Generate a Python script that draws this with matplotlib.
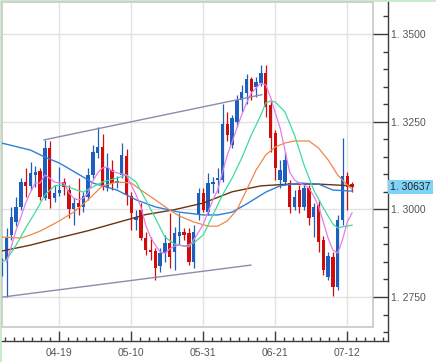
import matplotlib
matplotlib.use("Agg")
import matplotlib.pyplot as plt
from matplotlib.patches import Rectangle
from matplotlib.ticker import FixedLocator, MultipleLocator, FixedFormatter, NullFormatter
import numpy as np

# ---------------- data ----------------
opens = [1.2818, 1.2856, 1.2927, 1.2964, 1.3007, 1.3078, 1.3067, 1.3098, 1.3109, 1.3032,
         1.3175, 1.3032, 1.3047, 1.3078, 1.3055, 1.3001, 1.3018, 1.3007, 1.3035, 1.3098,
         1.3161, 1.3178, 1.3061, 1.3112, 1.3075, 1.3098, 1.3152, 1.3038, 1.2970, 1.2998,
         1.2918, 1.2884, 1.2881, 1.2838, 1.2875, 1.2904, 1.2878, 1.2924, 1.2935, 1.2933,
         1.2850, 1.2984, 1.3047, 1.2992, 1.3072, 1.3084, 1.3084, 1.3243, 1.3183, 1.3249,
         1.3312, 1.3332, 1.3372, 1.3349, 1.3360, 1.3389, 1.3298, 1.3218, 1.3084, 1.3078,
         1.3075, 1.3007, 1.3055, 1.3007, 1.3061, 1.2978, 1.3012, 1.2913, 1.2807, 1.2864,
         1.2779, 1.2970, 1.3095, 1.3072]
highs = [1.2861, 1.2947, 1.3007, 1.3035, 1.3089, 1.3118, 1.3135, 1.3124, 1.3118, 1.3198,
         1.3195, 1.3069, 1.3121, 1.3089, 1.3069, 1.3032, 1.3089, 1.3049, 1.3118, 1.3183,
         1.3235, 1.3215, 1.3161, 1.3141, 1.3095, 1.3189, 1.3172, 1.3049, 1.2998, 1.3018,
         1.2935, 1.2921, 1.2890, 1.2890, 1.2927, 1.2990, 1.2950, 1.2990, 1.2947, 1.2947,
         1.2955, 1.3061, 1.3061, 1.3104, 1.3092, 1.3118, 1.3300, 1.3278, 1.3269, 1.3326,
         1.3355, 1.3386, 1.3377, 1.3377, 1.3412, 1.3412, 1.3312, 1.3226, 1.3141, 1.3164,
         1.3084, 1.3055, 1.3069, 1.3075, 1.3069, 1.3018, 1.3027, 1.2924, 1.2878, 1.2878,
         1.2984, 1.3203, 1.3106, 1.3078]
lows = [1.2810, 1.2750, 1.2913, 1.2952, 1.2998, 1.3035, 1.3055, 1.3064, 1.3027, 1.3027,
        1.3004, 1.3021, 1.3038, 1.3041, 1.2975, 1.2955, 1.2984, 1.2992, 1.3027, 1.3089,
        1.3146, 1.3055, 1.3052, 1.3055, 1.3061, 1.3089, 1.3012, 1.2941, 1.2941, 1.2913,
        1.2870, 1.2856, 1.2798, 1.2821, 1.2850, 1.2833, 1.2827, 1.2898, 1.2913, 1.2841,
        1.2833, 1.2970, 1.2992, 1.2984, 1.3047, 1.3047, 1.3078, 1.3195, 1.3175, 1.3235,
        1.3278, 1.3300, 1.3312, 1.3320, 1.3352, 1.3263, 1.3164, 1.3084, 1.3061, 1.3069,
        1.2990, 1.2998, 1.2990, 1.2998, 1.2955, 1.2921, 1.2878, 1.2813, 1.2798, 1.2753,
        1.2770, 1.2955, 1.2998, 1.3049]
closes = [1.2847, 1.2918, 1.2978, 1.3007, 1.3078, 1.3067, 1.3104, 1.3106, 1.3035, 1.3175,
          1.3029, 1.3047, 1.3055, 1.3064, 1.3001, 1.3018, 1.3007, 1.3038, 1.3098, 1.3164,
          1.3178, 1.3064, 1.3118, 1.3075, 1.3081, 1.3155, 1.3041, 1.2990, 1.2978, 1.2918,
          1.2884, 1.2878, 1.2833, 1.2875, 1.2904, 1.2864, 1.2933, 1.2935, 1.2927, 1.2850,
          1.2935, 1.3047, 1.2998, 1.3075, 1.3078, 1.3089, 1.3243, 1.3212, 1.3260, 1.3312,
          1.3335, 1.3372, 1.3337, 1.3363, 1.3389, 1.3292, 1.3203, 1.3118, 1.3112, 1.3141,
          1.3007, 1.3035, 1.3007, 1.3061, 1.2975, 1.3007, 1.2907, 1.2827, 1.2867, 1.2779,
          1.2970, 1.3095, 1.3064, 1.30637]

# moving averages (candle index, value)
ma_pink_x = list(range(1, 74))
ma_pink = [1.2850, 1.2893, 1.2941, 1.2978, 1.3018, 1.3049, 1.3075, 1.3075, 1.3098, 1.3089,
           1.3078, 1.3075, 1.3075, 1.3047, 1.3032, 1.3027, 1.3032, 1.3047, 1.3081, 1.3104,
           1.3118, 1.3121, 1.3109, 1.3104, 1.3101, 1.3098, 1.3069, 1.3041, 1.3007, 1.2955,
           1.2921, 1.2898, 1.2878, 1.2875, 1.2887, 1.2895, 1.2898, 1.2895, 1.2893, 1.2913,
           1.2935, 1.2958, 1.2992, 1.3027, 1.3055, 1.3106, 1.3155, 1.3192, 1.3232, 1.3269,
           1.3303, 1.3332, 1.3346, 1.3360, 1.3355, 1.3320, 1.3275, 1.3232, 1.3169, 1.3106,
           1.3084, 1.3075, 1.3069, 1.3061, 1.3038, 1.3009, 1.2964, 1.2918, 1.2884, 1.2875,
           1.2913, 1.2964, 1.2990]

ma_green_x = [0, 1, 3, 5, 7, 9, 11, 13, 15, 17, 19, 21, 24, 26, 28, 30, 32, 34, 36, 38,
              40, 42, 44, 46, 48, 50, 52, 54, 55, 56, 57, 59, 61, 63, 65, 67, 69, 70, 71, 73]
ma_green = [1.2850, 1.2856, 1.2898, 1.2947, 1.2992, 1.3041, 1.3067, 1.3069, 1.3058, 1.3049,
            1.3064, 1.3078, 1.3089, 1.3098, 1.3078, 1.3027, 1.2975, 1.2921, 1.2901, 1.2895,
            1.2904, 1.2927, 1.2984, 1.3041, 1.3089, 1.3146, 1.3212, 1.3269, 1.3303, 1.3309,
            1.3306, 1.3278, 1.3212, 1.3126, 1.3055, 1.3004, 1.2958, 1.2947, 1.2950, 1.2955]

ma_orange_x = [0, 4, 6, 8, 10, 12, 15, 18, 21, 24, 27, 29, 32, 35, 37, 40, 43, 45, 47, 49,
               51, 53, 55, 57, 59, 61, 64, 66, 68, 70, 72, 73]
ma_orange = [1.2921, 1.2918, 1.2927, 1.2938, 1.2952, 1.2967, 1.2992, 1.3027, 1.3067, 1.3078,
             1.3075, 1.3055, 1.3027, 1.2998, 1.2981, 1.2964, 1.2952, 1.2952, 1.2967, 1.2998,
             1.3055, 1.3112, 1.3155, 1.3178, 1.3189, 1.3195, 1.3195, 1.3175, 1.3141, 1.3098,
             1.3069, 1.3058]

ma_blue_x = [0, 6, 9, 12, 17, 19, 24, 28, 32, 37, 42, 45, 48, 51, 55, 58, 62, 66, 69, 73]
ma_blue = [1.3189, 1.3169, 1.3149, 1.3132, 1.3092, 1.3075, 1.3055, 1.3027, 1.3007, 1.2992,
           1.2984, 1.2984, 1.2992, 1.3015, 1.3049, 1.3067, 1.3075, 1.3072, 1.3055, 1.3052]

ma_brown_x = [0, 6, 12, 18, 24, 30, 36, 42, 48, 54, 60, 66, 73]
ma_brown = [1.2881, 1.2898, 1.2919, 1.2939, 1.2962, 1.2985, 1.2999, 1.3018, 1.3050, 1.3067,
            1.3072, 1.3072, 1.3067]

# trend lines (candle index, price)
trend_upper_x = [8.8, 54.2]
trend_upper_y = [1.3198, 1.3327]
trend_lower_x = [0.27, 51.9]
trend_lower_y = [1.2750, 1.2841]

# axis ticks / labels
x_tick_pos = [12, 27, 42, 57, 72]
x_tick_labels = ["04-19", "05-10", "05-31", "06-21", "07-12"]
y_tick_values = [1.275, 1.300, 1.325, 1.350]
y_tick_labels = ["1. 2750", "1. 3000", "1. 3250", "1. 3500"]
last_price_label = "1. 30637"

# ---------------- figure ----------------
W, H = 436, 362
fig = plt.figure(figsize=(W / 100, H / 100), dpi=100)
fig.patch.set_facecolor("white")

def rect(l, t, r, b):
    return [l / W, 1 - b / H, (r - l) / W, (b - t) / H]

# light green frame (left and top)
fig.add_artist(Rectangle((0, 0), 2 / W, 1, transform=fig.transFigure,
                         fc="#c8ecca", ec="none", zorder=-5))
fig.add_artist(Rectangle((0, 1 - 2 / H), 1, 2 / H, transform=fig.transFigure,
                         fc="#c8ecca", ec="none", zorder=-5))

x_left, x_right = 0.0625, 77.354
y_top, y_bot = 1.359125, 1.266446

ax = fig.add_axes(rect(2, 2, 373, 327))
ax.set_xlim(x_left, x_right)
ax.set_ylim(y_bot, y_top)
ax.set_facecolor("white")
for s in ax.spines.values():
    s.set_color("#cfcfcf")
    s.set_linewidth(1.4)
ax.set_xticks(x_tick_pos)
ax.set_yticks(y_tick_values)
ax.tick_params(length=0, labelbottom=False, labelleft=False)
ax.grid(True, color="#e2e2e2", linewidth=1.0)
ax.set_axisbelow(True)

# candles
idx = np.arange(len(opens))
o = np.array(opens); c = np.array(closes); h = np.array(highs); l = np.array(lows)
up = c >= o
col_up, col_dn = "#1c5fbf", "#d00c0c"
colors = np.where(up, col_up, col_dn)
ax.vlines(idx, l, h, colors=colors, linewidth=0.9, zorder=3)
body_lo = np.minimum(o, c)
body_h = np.maximum(np.abs(c - o), 0.0003)
ax.bar(idx, body_h, bottom=body_lo, width=0.72, color=colors, linewidth=0, zorder=3)

# moving averages
ax.plot(ma_brown_x, ma_brown, color="#6a3510", lw=1.0, zorder=4)
ax.plot(ma_blue_x, ma_blue, color="#2f80d8", lw=1.0, zorder=4)
ax.plot(ma_orange_x, ma_orange, color="#f0874a", lw=0.9, zorder=4)
ax.plot(ma_green_x, ma_green, color="#3fdc98", lw=0.9, zorder=4)
ax.plot(ma_pink_x, ma_pink, color="#e77be8", lw=0.9, zorder=4)

# trend lines
ax.plot(trend_upper_x, trend_upper_y, color="#8c8caa", lw=1.0, zorder=4)
ax.plot(trend_lower_x, trend_lower_y, color="#8c8caa", lw=1.0, zorder=4)

# outer axis frame with ticks (right and bottom axis lines)
ax2 = fig.add_axes(rect(2, 2, 388, 341), zorder=5)
ax2.patch.set_alpha(0)
ax2.set_xlim(x_left, x_left + (x_right - x_left) * 386 / 371)
ax2.set_ylim(y_top - (y_top - y_bot) * 339 / 325, y_top)
for side in ("top", "left"):
    ax2.spines[side].set_visible(False)
for side in ("right", "bottom"):
    ax2.spines[side].set_color("#3c3c3c")
    ax2.spines[side].set_linewidth(1.0)

ax2.yaxis.tick_right()
ax2.yaxis.set_major_locator(FixedLocator(y_tick_values))
ax2.yaxis.set_major_formatter(FixedFormatter(y_tick_labels))
ax2.yaxis.set_minor_locator(MultipleLocator(0.005))
ax2.yaxis.set_minor_formatter(NullFormatter())
ax2.xaxis.set_major_locator(FixedLocator(x_tick_pos))
ax2.xaxis.set_major_formatter(FixedFormatter(x_tick_labels))
ax2.xaxis.set_minor_locator(FixedLocator(np.arange(x_tick_pos[0] - 1.875 * 6, 81, 1.875)))
ax2.xaxis.set_minor_formatter(NullFormatter())

ax2.tick_params(axis="y", which="major", direction="in", length=10.8, width=1.0,
                color="#3c3c3c", right=True, left=False, labelright=True, labelleft=False,
                pad=2.5, labelsize=7.5, labelcolor="#555555")
ax2.tick_params(axis="y", which="minor", direction="in", length=3.6, width=1.0,
                color="#3c3c3c", right=True, left=False)
ax2.tick_params(axis="x", which="major", direction="in", length=7.2, width=1.0,
                color="#3c3c3c", top=False, bottom=True, pad=5, labelsize=7.5,
                labelcolor="#555555")
ax2.tick_params(axis="x", which="minor", direction="in", length=3.0, width=1.0,
                color="#3c3c3c", top=False, bottom=True)
for t in ax2.get_xticklabels() + ax2.get_yticklabels():
    t.set_fontfamily("Liberation Sans")

# last price marker
ax2.annotate(last_price_label, xy=(1, closes[-1]), xycoords=("axes fraction", "data"),
             xytext=(1.5, 0), textcoords="offset points", ha="left", va="center",
             fontsize=7.5, family="Liberation Sans", color="#222222",
             bbox=dict(boxstyle="square,pad=0.22", fc="#7ed3f6", ec="none"),
             annotation_clip=False)

fig.savefig("out.png", dpi=100)
